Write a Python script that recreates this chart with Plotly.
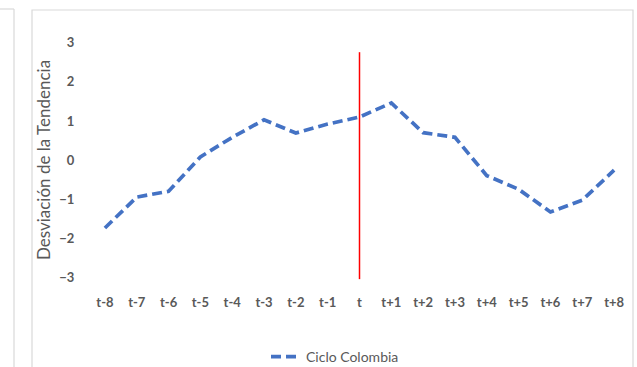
import plotly.graph_objects as go

# periodos alrededor del evento
periodos = ["t-8", "t-7", "t-6", "t-5", "t-4", "t-3", "t-2", "t-1", "t",
            "t+1", "t+2", "t+3", "t+4", "t+5", "t+6", "t+7", "t+8"]
ciclo_colombia = [-1.74, -0.95, -0.80, 0.08, 0.58, 1.03, 0.69, 0.92, 1.10,
                  1.46, 0.70, 0.58, -0.40, -0.75, -1.33, -1.03, -0.26]

# linea vertical del evento
evento_x = ["t", "t"]
evento_y = [2.76, -3.05]

W, H = 637, 367
L, R, T, B = 89, 7, 35, 82
pw, ph = W - L - R, H - T - B


def px_x(v):
    return (v - L) / pw


def px_y(v):
    return (H - B - v) / ph


gris = "#595959"
fuente = "Lato, Open Sans, sans-serif"

fig = go.Figure()
fig.add_trace(go.Scatter(
    x=periodos, y=ciclo_colombia, mode="lines", name="Ciclo Colombia",
    line=dict(color="#4472C4", width=3.7, dash="10px,5px"),
))
fig.add_trace(go.Scatter(
    x=evento_x, y=evento_y, mode="lines", showlegend=False,
    line=dict(color="#FF0000", width=1.5),
))

borde = dict(color="#D9D9D9", width=1.2)
fig.update_layout(
    width=W, height=H,
    margin=dict(l=L, r=R, t=T, b=B, autoexpand=False),
    plot_bgcolor="white", paper_bgcolor="white",
    font=dict(family=fuente, color=gris, size=13),
    showlegend=True,
    legend=dict(orientation="h", x=px_x(335), xanchor="center",
                y=px_y(357), yanchor="middle",
                font=dict(size=14, color=gris)),
    shapes=[
        dict(type="rect", xref="paper", yref="paper",
             x0=px_x(32), x1=px_x(633), y0=px_y(380), y1=px_y(10), line=borde),
        dict(type="line", xref="paper", yref="paper",
             x0=px_x(14), x1=px_x(14), y0=px_y(380), y1=px_y(9), line=borde),
        dict(type="line", xref="paper", yref="paper",
             x0=px_x(-5), x1=px_x(14), y0=px_y(9), y1=px_y(9), line=borde),
    ],
)
fig.update_xaxes(
    type="category", range=[-0.5, 16.5], showgrid=False, zeroline=False,
    showline=False, ticks="outside", ticklen=5, tickcolor="rgba(0,0,0,0)",
    tickfont=dict(size=13, color=gris, weight="bold"),
)
fig.update_yaxes(
    range=[-3.2, 3.2], dtick=1, showgrid=False, zeroline=False, showline=False,
    ticks="outside", ticklen=11, tickcolor="rgba(0,0,0,0)",
    tickfont=dict(size=13, color=gris, weight="bold"),
    title=dict(text="Desviación de la Tendencia", standoff=4,
               font=dict(size=17, color=gris)),
)

fig.write_html("out.html", config={"displayModeBar": False},
               post_script="document.body.style.margin='0';")
